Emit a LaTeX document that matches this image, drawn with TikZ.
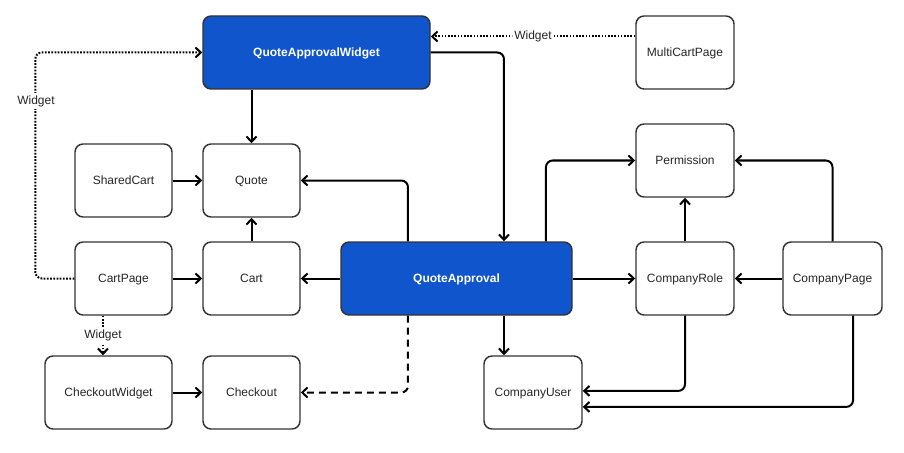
\documentclass[tikz,border=0pt]{standalone}
\usepackage{fontspec}
\setmainfont{Liberation Sans}
\usetikzlibrary{arrows.meta}
\definecolor{qblue}{HTML}{1155CC}
\definecolor{bord}{HTML}{333333}
\tikzset{
  box/.style={draw=bord, line width=1.1pt, rounded corners=6pt, fill=white,
    minimum height=54.75pt, inner sep=0pt, text depth=0pt, font=\fontsize{9}{11}\selectfont, text=black!85},
  bluebox/.style={box, fill=qblue, text=white, font=\fontsize{9}{11}\selectfont\bfseries},
  conn/.style={line width=1.5pt, -{Straight Barb[length=4pt,width=7.5pt]}, rounded corners=5pt},
  dotconn/.style={conn, dash pattern=on 1.3pt off 1.1pt},
  dashconn/.style={conn, dash pattern=on 5.25pt off 3.75pt},
  lbl/.style={fill=white, inner sep=1.5pt, font=\fontsize{9}{11}\selectfont, text=black!85}
}
\begin{document}
\begin{tikzpicture}[x=0.75pt, y=-0.75pt]
\useasboundingbox (0,0) rectangle (904,453);
% nodes
\node[bluebox, minimum width=170.25pt] (QAW) at (316.5,52.5) {QuoteApprovalWidget};
\node[box, minimum width=73.5pt] (MCP) at (685,52.5) {MultiCartPage};
\node[box, minimum width=72.75pt] (SC) at (123.5,180.5) {SharedCart};
\node[box, minimum width=72.75pt] (Quote) at (251.5,180.5) {Quote};
\node[box, minimum width=73.5pt] (Perm) at (685,160.5) {Permission};
\node[box, minimum width=72.75pt] (CP) at (123.5,278.5) {CartPage};
\node[box, minimum width=72.75pt] (Cart) at (251.5,278.5) {Cart};
\node[bluebox, minimum width=173.25pt] (QA) at (456.5,278.5) {QuoteApproval};
\node[box, minimum width=73.5pt] (CR) at (685,278.5) {CompanyRole};
\node[box, minimum width=74.25pt] (CPg) at (832.5,278.5) {CompanyPage};
\node[box, minimum width=95.25pt] (CW) at (108.5,392.5) {CheckoutWidget};
\node[box, minimum width=72.75pt] (CO) at (251.5,392.5) {Checkout};
\node[box, minimum width=73.5pt] (CU) at (533,392.5) {CompanyUser};
% solid connectors
\draw[conn] (QAW.south -| Quote.north) -- (Quote.north);
\draw[conn] (QAW.east) -| ([xshift=35.6pt]QA.north);
\draw[conn] (SC.east) -- (Quote.west);
\draw[conn] (Cart.north) -- (Quote.south);
\draw[conn] (CP.east) -- (Cart.west);
\draw[conn] (QA.west) -- (Cart.east);
\draw[conn] ([xshift=-36.4pt]QA.north) |- (Quote.east);
\draw[conn] ([xshift=67.1pt]QA.north) |- (Perm.west);
\draw[conn] (QA.east) -- (CR.west);
\draw[conn] ([xshift=35.6pt]QA.south) -- ([xshift=35.6pt]QA.south |- CU.north);
\draw[conn] (CR.north) -- (Perm.south);
\draw[conn] (CPg.north) |- (Perm.east);
\draw[conn] (CPg.west) -- (CR.east);
\draw[conn] (CR.south) |- ([yshift=1.2pt]CU.east);
\draw[conn] ([xshift=15.4pt]CPg.south) |- ([yshift=-10.8pt]CU.east);
\draw[conn] (CW.east) -- (CO.west);
% dashed
\draw[dashconn] ([xshift=-36.4pt]QA.south) |- (CO.east);
% dotted
\draw[dotconn] ([yshift=12pt]MCP.west) -- node[lbl]{Widget} ([yshift=12pt]QAW.east);
\draw[dotconn] (CP.west) -| ([xshift=-29.25pt]CP.west |- QAW.west) -- (QAW.west);
\node[lbl] (wl) at (36,101) {Widget};
\draw[dotconn] ([xshift=-15.4pt]CP.south) -- node[lbl]{Widget} ([xshift=-15.4pt]CP.south |- CW.north);
\end{tikzpicture}
\end{document}
